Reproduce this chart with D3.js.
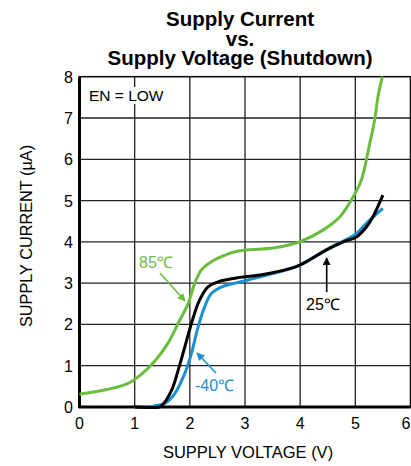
<!DOCTYPE html>
<html><head><meta charset="utf-8">
<script src="https://cdn.jsdelivr.net/npm/d3@7"></script>
<style>body{margin:0;background:#fff}svg{display:block}</style>
</head><body>
<script>
const xTicks = [0,1,2,3,4,5,6];
const yTicks = [0,1,2,3,4,5,6,7,8];
const v85 = [0,0.52,0.88,1.13,1.37,1.61,1.79,1.97,2.09,2.21,2.39,2.64,2.82,3.09,3.51,3.99,4.42,4.72,4.96,5.11,5.26,5.35,5.41,5.49];
const i85 = [0.31,0.43,0.57,0.80,1.12,1.56,2.03,2.51,3.0,3.32,3.52,3.68,3.76,3.81,3.85,4.0,4.29,4.61,5.09,5.50,6.38,6.95,7.51,8.0];
const v25 = [1.0,1.45,1.49,1.67,1.79,1.91,2.03,2.15,2.24,2.33,2.51,2.82,3.33,3.93,4.17,4.47,4.78,5.02,5.2,5.32,5.50];
const i25 = [0,0,0.03,0.41,0.90,1.46,2.03,2.51,2.75,2.91,3.03,3.12,3.21,3.40,3.56,3.80,4.0,4.12,4.36,4.61,5.13];
const vm40 = [1.0,1.30,1.37,1.55,1.73,1.91,2.03,2.15,2.27,2.39,2.58,2.82,3.33,3.93,4.17,4.47,4.78,5.02,5.2,5.50];
const im40 = [0,0,0.03,0.09,0.33,0.82,1.30,1.94,2.43,2.75,2.91,3.0,3.17,3.40,3.57,3.81,4.02,4.20,4.45,4.81];
const labels = {title:["Supply Current","vs.","Supply Voltage (Shutdown)"], x:"SUPPLY VOLTAGE (V)", y:"SUPPLY CURRENT (µA)"};

const W=411,H=466, L=79.5,R=410.5,T=76.7,B=407;
const svg=d3.select("body").append("svg").attr("width",W).attr("height",H);
const x=d3.scaleLinear().domain([0,6]).range([L,R]);
const y=d3.scaleLinear().domain([0,8]).range([B,T]);
const font="Liberation Sans, Arial, sans-serif";

// grid
svg.append("g").selectAll("line").data(xTicks.slice(1,-1)).join("line")
 .attr("x1",d=>x(d)).attr("x2",d=>x(d)).attr("y1",T).attr("y2",B).attr("stroke","#222").attr("stroke-width",1.3);
svg.append("g").selectAll("line").data(yTicks.slice(1,-1)).join("line")
 .attr("y1",d=>y(d)).attr("y2",d=>y(d)).attr("x1",L).attr("x2",R).attr("stroke","#222").attr("stroke-width",1.3);
svg.append("rect").attr("x",L).attr("y",T).attr("width",R-L).attr("height",B-T).attr("fill","none").attr("stroke","#111").attr("stroke-width",1.6);
svg.append("line").attr("x1",L).attr("x2",L).attr("y1",T).attr("y2",B+1).attr("stroke","#000").attr("stroke-width",3);
svg.append("line").attr("x1",L-1).attr("x2",R).attr("y1",B).attr("y2",B).attr("stroke","#000").attr("stroke-width",3);

// EN = LOW
svg.append("rect").attr("x",86).attr("y",87).attr("width",86).attr("height",17).attr("fill","#fff");
svg.append("text").attr("x",89).attr("y",101).attr("font-family",font).attr("font-size",15.5).text("EN = LOW");

// tick labels
svg.append("g").selectAll("text").data(yTicks).join("text")
 .attr("x",73).attr("y",d=>y(d)+6).attr("text-anchor","end").attr("font-family",font).attr("font-size",16).text(d=>d);
svg.append("g").selectAll("text").data(xTicks).join("text")
 .attr("x",d=>Math.min(x(d),406)).attr("y",429).attr("text-anchor","middle").attr("font-family",font).attr("font-size",16).text(d=>d);

// axis titles
svg.append("text").attr("x",248).attr("y",458).attr("text-anchor","middle").attr("font-family",font).attr("font-size",16.5).text(labels.x);
svg.append("text").attr("transform","translate(32,236) rotate(-90)").attr("text-anchor","middle").attr("font-family",font).attr("font-size",16.3).text(labels.y);

// title
svg.append("g").selectAll("text").data(labels.title).join("text")
 .attr("x",240).attr("y",(d,i)=>[26,46,65][i]).attr("text-anchor","middle").attr("font-family",font).attr("font-weight","bold").attr("font-size",20.5).text(d=>d);

// curves
const line=d3.line().x(d=>x(d[0])).y(d=>y(d[1])).curve(d3.curveCatmullRom.alpha(0.5));
const green="#6abd3c", blue="#1b8fcf";
const plot=svg.append("g");
plot.append("path").attr("d",line(v85.map((v,i)=>[v,i85[i]]))).attr("fill","none").attr("stroke",green).attr("stroke-width",3);
plot.append("path").attr("d",line(vm40.map((v,i)=>[v,im40[i]]))).attr("fill","none").attr("stroke",blue).attr("stroke-width",3);
plot.append("path").attr("d",line(v25.map((v,i)=>[v,i25[i]]))).attr("fill","none").attr("stroke","#000").attr("stroke-width",3);

// annotations
const defs=svg.append("defs");
[["ag",green],["ab",blue],["ak","#000"]].forEach(([id,c])=>{
 defs.append("marker").attr("id",id).attr("viewBox","0 0 10 10").attr("refX",9).attr("refY",5)
  .attr("markerWidth",5).attr("markerHeight",5).attr("orient","auto")
  .append("path").attr("d","M0,0L10,5L0,10z").attr("fill",c);
});
function ann(t,tx,ty,c,x1,y1,x2,y2,m){
 svg.append("line").attr("x1",x1).attr("y1",y1).attr("x2",x2).attr("y2",y2).attr("stroke",c).attr("stroke-width",1.6).attr("marker-end",`url(#${m})`);
 svg.append("text").attr("x",tx).attr("y",ty).attr("fill",c).attr("font-family",font).attr("font-size",16).text(t);
}
ann("85℃",139,268,green,160,273,185,301,"ag");
ann("-40℃",195,391,blue,216,373,197,353,"ab");
ann("25℃",306,310,"#000",326.7,292,326.7,258,"ak");
</script>
</body></html>
